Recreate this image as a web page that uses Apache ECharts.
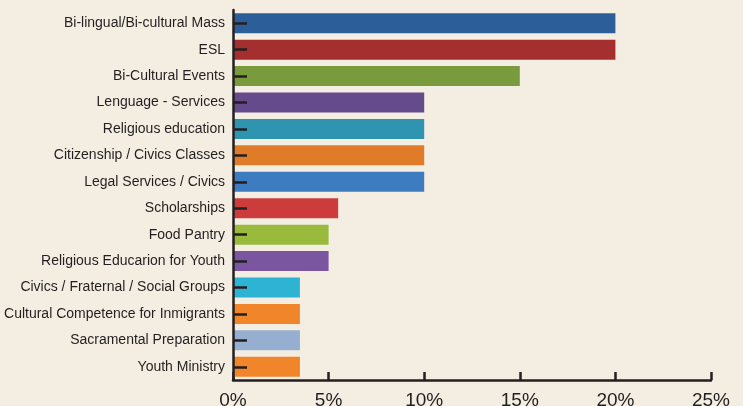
<!DOCTYPE html>
<html>
<head>
<meta charset="utf-8">
<script src="https://cdn.jsdelivr.net/npm/echarts@6/dist/echarts.min.js"></script>
<style>
  html, body { margin: 0; padding: 0; background: #f3ede2; }
  #chart { width: 743px; height: 406px; }
</style>
</head>
<body>
<div id="chart"></div>
<script>
// categories top to bottom
const categories = [
  'Bi-lingual/Bi-cultural Mass',
  'ESL',
  'Bi-Cultural Events',
  'Lenguage - Services',
  'Religious education',
  'Citizenship / Civics Classes',
  'Legal Services / Civics',
  'Scholarships',
  'Food Pantry',
  'Religious Educarion for Youth',
  'Civics / Fraternal / Social Groups',
  'Cultural Competence for Inmigrants',
  'Sacramental Preparation',
  'Youth Ministry'
];
const values = [20, 20, 15, 10, 10, 10, 10, 5.5, 5, 5, 3.5, 3.5, 3.5, 3.5];
const barColors = [
  '#2c5f9a', '#a52e2e', '#7a9a3e', '#654a8c', '#2e94b0', '#e07b2a', '#3d7cc0',
  '#cc3c3c', '#9aba3e', '#7a55a0', '#2db3d4', '#f0852a', '#96aed0', '#f0852a'
];
const xTicks = [0, 5, 10, 15, 20, 25];

const chart = echarts.init(document.getElementById('chart'));

chart.setOption({
  backgroundColor: '#f3ede2',
  animation: false,
  grid: { left: 233, right: 32, top: 10, bottom: 26, containLabel: false, outerBoundsMode: 'none' },
  xAxis: {
    type: 'value',
    min: xTicks[0],
    max: xTicks[xTicks.length - 1],
    interval: 5,
    axisLine: { show: true, lineStyle: { color: '#231f20', width: 2.5 } },
    axisTick: { show: true, inside: true, length: 8, lineStyle: { color: '#231f20', width: 2.5 } },
    splitLine: { show: false },
    axisLabel: {
      formatter: '{value}%',
      color: '#231f20',
      fontSize: 19,
      fontFamily: 'Liberation Sans Narrow, Arial Narrow, sans-serif',
      margin: 11
    }
  },
  yAxis: {
    type: 'category',
    data: categories,
    inverse: true,
    axisLine: { show: true, lineStyle: { color: '#231f20', width: 2.5 } },
    axisTick: { show: true, inside: true, length: 14, alignWithLabel: true, lineStyle: { color: '#231f20', width: 2.5 } },
    axisLabel: {
      color: '#231f20',
      fontSize: 14,
      fontFamily: 'Liberation Sans Narrow, Arial Narrow, sans-serif',
      margin: 8
    },
    z: 10
  },
  series: [{
    type: 'bar',
    data: values.map((v, i) => ({ value: v, itemStyle: { color: barColors[i] } })),
    barWidth: 20,
    z: 2
  }]
});
</script>
</body>
</html>
